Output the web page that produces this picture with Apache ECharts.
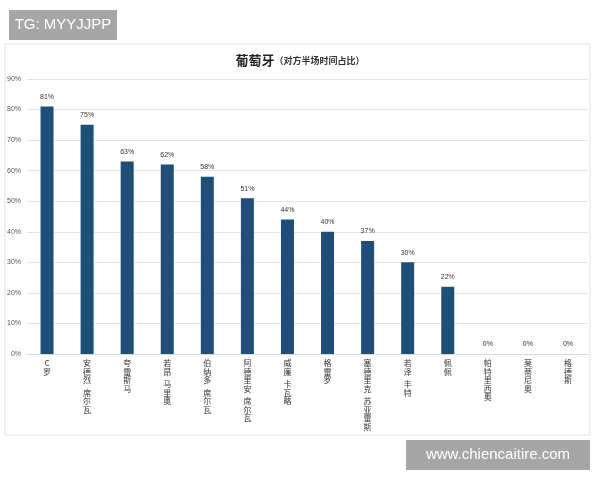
<!DOCTYPE html>
<html>
<head>
<meta charset="utf-8">
<script src="https://cdn.jsdelivr.net/npm/echarts@6/dist/echarts.min.js"></script>
<style>
html, body { margin: 0; padding: 0; background: #fff; }
#main { width: 600px; height: 480px; }
</style>
</head>
<body>
<div id="main"></div>
<script>
// 球员 & 对方半场时间占比 (%)
var players = ['C罗', '安德烈·席尔瓦', '夸雷斯马', '若昂·马里奥', '伯纳多·席尔瓦', '阿德里安·席尔瓦',
  '威廉·卡瓦略', '格雷罗', '塞德里克·苏亚雷斯', '若泽·丰特', '佩佩', '帕特里西奥', '莫蒂尼奥', '格德斯'];
var share = [81, 75, 63, 62, 58, 51, 44, 40, 37, 30, 22, 0, 0, 0];
var yTicks = [0, 90, 10];

var chart = echarts.init(document.getElementById('main'));

var option = {
  backgroundColor: '#fff',
  animation: false,
  title: {
    text: '{a|葡萄牙}{b|（对方半场时间占比）}',
    left: 'center',
    top: 49,
    textStyle: {
      rich: {
        a: { fontSize: 13, fontWeight: 'bold', color: '#222', fontFamily: 'Noto Sans CJK SC' },
        b: { fontSize: 9, color: '#333', fontFamily: 'Noto Sans CJK SC' }
      }
    }
  },
  grid: { left: 27, right: 12, top: 79, bottom: 126 },
  xAxis: {
    type: 'category',
    data: players,
    axisTick: { show: false },
    axisLine: { lineStyle: { color: '#d9d9d9' } },
    axisLabel: {
      interval: 0,
      margin: 5,
      color: '#333',
      fontSize: 8,
      lineHeight: 8.5,
      fontFamily: 'Noto Sans CJK SC',
      // 竖排：每个字一行，间隔点只留一个小空隙
      formatter: function (v) {
        return v.split('').map(function (c) {
          return c === '·' ? '{s| }' : c;
        }).join('\n');
      },
      rich: {
        s: { fontSize: 4, lineHeight: 4 }
      }
    }
  },
  yAxis: {
    type: 'value',
    min: yTicks[0],
    max: yTicks[1],
    interval: yTicks[2],
    axisLine: { show: false },
    axisTick: { show: false },
    axisLabel: {
      color: '#555',
      fontSize: 7,
      margin: 6,
      formatter: '{value}%'
    },
    splitLine: { lineStyle: { color: '#e4e4e4' } }
  },
  series: [{
    type: 'bar',
    data: share,
    barWidth: 13,
    itemStyle: { color: '#1f4e79' },
    label: {
      show: true,
      position: 'top',
      distance: 6,
      color: '#333',
      fontSize: 7,
      formatter: '{c}%'
    }
  }],
  graphic: [
    {
      type: 'rect', z: -1,
      shape: { x: 5, y: 44, width: 585, height: 391 },
      style: { fill: '#fff', stroke: '#e2e2e2', lineWidth: 1 }
    },
    { type: 'rect', shape: { x: 9, y: 10, width: 108, height: 30 }, style: { fill: '#a6a6a6' } },
    { type: 'text', x: 63, y: 25,
      style: { text: 'TG: MYYJJPP', fill: '#fff', font: '15px "Liberation Sans"', align: 'center', verticalAlign: 'middle' } },
    { type: 'rect', shape: { x: 406, y: 440, width: 184, height: 30 }, style: { fill: '#a6a6a6' } },
    { type: 'text', x: 498, y: 455,
      style: { text: 'www.chiencaitire.com', fill: '#fff', font: '15px "Liberation Sans"', align: 'center', verticalAlign: 'middle' } }
  ]
};

chart.setOption(option);
window.addEventListener('resize', function () {
  chart.resize();
});
</script>
</body>
</html>
